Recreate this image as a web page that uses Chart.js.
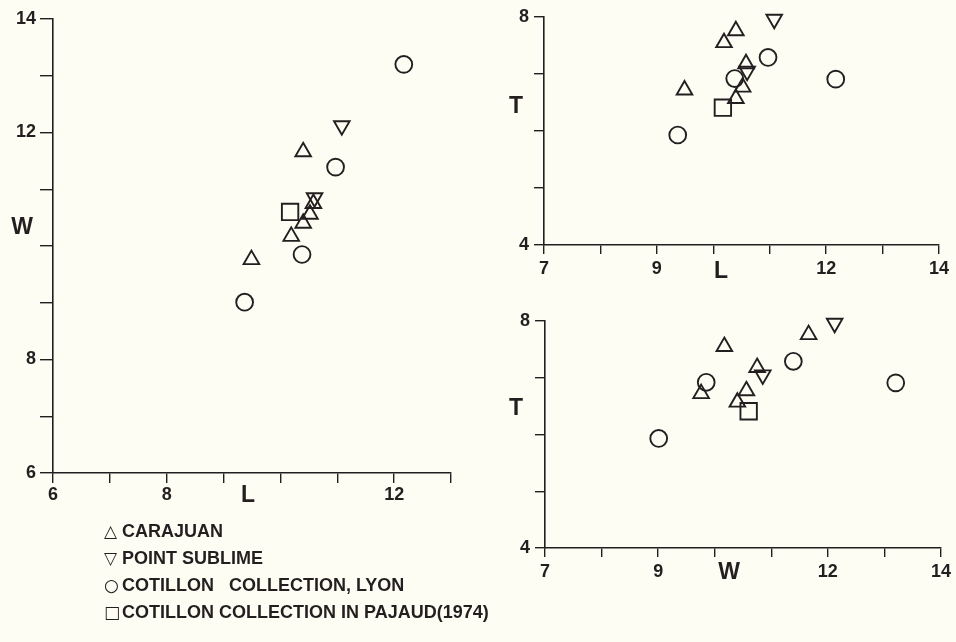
<!DOCTYPE html>
<html>
<head>
<meta charset="utf-8">
<script src="https://cdn.jsdelivr.net/npm/chart.js@4.4.1/dist/chart.umd.min.js"></script>
<style>
  html, body { margin:0; padding:0; background:#fdfdf3; }
  body { width:956px; height:642px; position:relative; overflow:hidden; font-family:"Liberation Sans", Arial, sans-serif; color:#231f20; }
  canvas { position:absolute; }
  .lab { position:absolute; font-weight:bold; font-size:23px; line-height:1; transform:translate(-50%,-50%); }
  #legend { position:absolute; left:104px; top:518px; font-size:18px; font-weight:bold; line-height:27px; white-space:nowrap; }
  #legend .sym { font-family:"DejaVu Sans", sans-serif; font-weight:normal; font-size:17px; display:inline-block; width:18px; }
</style>
</head>
<body>
<canvas id="cLW" width="470" height="520" style="left:0;top:0;width:470px;height:520px"></canvas>
<canvas id="cLT" width="466" height="290" style="left:490px;top:0;width:466px;height:290px"></canvas>
<canvas id="cWT" width="466" height="290" style="left:490px;top:300px;width:466px;height:290px"></canvas>

<div class="lab" style="left:22px;top:226px">W</div>
<div class="lab" style="left:248px;top:494px">L</div>
<div class="lab" style="left:516px;top:105px">T</div>
<div class="lab" style="left:721px;top:270px">L</div>
<div class="lab" style="left:516px;top:407px">T</div>
<div class="lab" style="left:729px;top:571px">W</div>

<div id="legend">
  <div><span class="sym">△</span>CARAJUAN</div>
  <div><span class="sym">▽</span>POINT SUBLIME</div>
  <div><span class="sym">○</span>COTILLON&nbsp;&nbsp; COLLECTION, LYON</div>
  <div><span class="sym">□</span>COTILLON COLLECTION IN PAJAUD(1974)</div>
</div>

<script>
// ---- data: length L, width W, thickness T of each specimen ----
const seriesNames = ["CARAJUAN", "POINT SUBLIME", "COTILLON COLLECTION, LYON", "COTILLON COLLECTION IN PAJAUD (1974)"];

const carajuanL = [10.40, 10.19, 10.58, 9.49, 10.52, 10.40];
const carajuanW = [11.66, 10.17, 10.75, 9.76, 10.56, 10.40];
const carajuanT = [7.76, 7.55, 7.18, 6.72, 6.77, 6.57];

const sublimeL = [11.08, 10.60];
const sublimeW = [12.12, 10.85];
const sublimeT = [7.96, 7.05];

const lyonL = [12.17, 10.97, 10.38, 9.37];
const lyonW = [13.20, 11.39, 9.85, 9.01];
const lyonT = [6.91, 7.29, 6.92, 5.93];

const pajaudL = [10.17];
const pajaudW = [10.60];
const pajaudT = [6.41];

// tick labels shown on each axis
const ticksLW_x = [6, 8, 12];
const ticksLW_y = [14, 12, 8, 6];
const ticksLT_x = [7, 9, 12, 14];
const ticksLT_y = [8, 4];
const ticksWT_x = [7, 9, 12, 14];
const ticksWT_y = [8, 4];

// ---- rendering ----
const INK = '#231f20';
const pair = (a, b) => a.map((v, i) => ({ x: v, y: b[i] }));

function datasets(xs, ys) {
  const base = { borderColor: INK, backgroundColor: 'rgba(0,0,0,0)', borderWidth: 1.9, clip: false };
  return [
    Object.assign({ label: seriesNames[0], data: pair(xs[0], ys[0]), pointStyle: 'triangle', pointRadius: 9 }, base),
    Object.assign({ label: seriesNames[1], data: pair(xs[1], ys[1]), pointStyle: 'triangle', pointRadius: 9, pointRotation: 180 }, base),
    Object.assign({ label: seriesNames[2], data: pair(xs[2], ys[2]), pointStyle: 'circle', pointRadius: 8.4 }, base),
    Object.assign({ label: seriesNames[3], data: pair(xs[3], ys[3]), pointStyle: 'rect', pointRadius: 11.6 }, base),
  ];
}

function axis(min, max, shown, opts) {
  return {
    type: 'linear', min: min, max: max,
    border: { display: true, color: INK, width: 1.6 },
    grid: { display: true, drawOnChartArea: false, drawTicks: true, tickLength: opts.tick, color: INK, lineWidth: 1.4 },
    ticks: {
      stepSize: 1, autoSkip: false, maxRotation: 0, padding: opts.pad, color: INK,
      font: { family: '"Liberation Sans", Arial, sans-serif', size: 18, weight: 'bold' },
      callback: v => shown.includes(v) ? String(v) : ''
    },
    afterFit: s => {
      if (opts.width !== undefined) s.width = opts.width;
      if (opts.height !== undefined) s.height = opts.height;
      s.paddingLeft = 0; s.paddingRight = 0; s.paddingTop = 0; s.paddingBottom = 0;
    }
  };
}

function makeChart(id, xs, ys, xr, yr, xShown, yShown, pad, yW, xH, xTick, yTick, xPad, yPad) {
  new Chart(document.getElementById(id), {
    type: 'scatter',
    data: { datasets: datasets(xs, ys) },
    options: {
      responsive: false, animation: false, devicePixelRatio: 1,
      layout: { padding: pad },
      plugins: { legend: { display: false }, tooltip: { enabled: false } },
      scales: {
        x: axis(xr[0], xr[1], xShown, { tick: xTick, pad: xPad, height: xH }),
        y: axis(yr[0], yr[1], yShown, { tick: yTick, pad: yPad, width: yW })
      }
    }
  });
}

makeChart('cLW',
  [carajuanL, sublimeL, lyonL, pajaudL], [carajuanW, sublimeW, lyonW, pajaudW],
  [6, 13], [6, 14], ticksLW_x, ticksLW_y,
  { left: 0, right: 19, top: 19, bottom: 0 }, 53, 47, 10, 13, 1, 4);

makeChart('cLT',
  [carajuanL, sublimeL, lyonL, pajaudL], [carajuanT, sublimeT, lyonT, pajaudT],
  [7, 14], [4, 8], ticksLT_x, ticksLT_y,
  { left: 0, right: 17, top: 17, bottom: 0 }, 54, 45, 9, 10, 4, 5);

makeChart('cWT',
  [carajuanW, sublimeW, lyonW, pajaudW], [carajuanT, sublimeT, lyonT, pajaudT],
  [7, 14], [4, 8], ticksWT_x, ticksWT_y,
  { left: 0, right: 15, top: 21, bottom: 0 }, 55, 42, 9, 10, 4, 5);
</script>
</body>
</html>
